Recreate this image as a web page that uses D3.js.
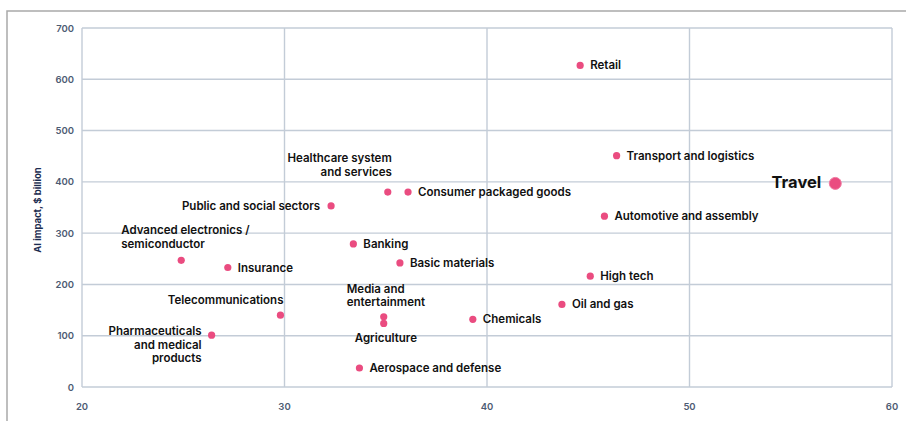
<!DOCTYPE html>
<html>
<head>
<meta charset="utf-8">
<script src="https://cdn.jsdelivr.net/npm/d3@7"></script>
<style>
	body { margin: 0; background: #fff; }
	svg { font-family: Inter, 'Noto Sans', sans-serif; }
	.grid line { stroke: #c3ccd7; stroke-width: 1.4; }
	.tick-label { fill: #4d5b73; font-size: 9.5px; font-weight: 600; }
	.lbl { fill: #111; font-size: 11.5px; font-weight: 600; }
	.lbl.big { font-size: 16.5px; font-weight: 700; }
</style>
</head>
<body>
<div id="chart"></div>
<script>
// industries and their positions (x = share of value, y = AI impact $bn)
const sectors = [
	'Retail', 'Transport and logistics', 'Travel', 'Automotive and assembly',
	'High tech', 'Oil and gas', 'Chemicals', 'Aerospace and defense',
	'Media and entertainment', 'Agriculture', 'Basic materials', 'Banking',
	'Public and social sectors', 'Healthcare system and services',
	'Consumer packaged goods', 'Telecommunications', 'Insurance',
	'Advanced electronics / semiconductor', 'Pharmaceuticals and medical products'
];
const xValues = [44.6, 46.4, 57.2, 45.8, 45.1, 43.7, 39.3, 33.7, 34.9, 34.9, 35.7, 33.4, 32.3, 35.1, 36.1, 29.8, 27.2, 24.9, 26.4];
const yValues = [627, 451, 397, 333, 216, 161, 132, 37, 137, 124, 242, 279, 353, 380, 380, 140, 233, 247, 101];
const xTicks = [20, 30, 40, 50, 60];
const yTicks = [0, 100, 200, 300, 400, 500, 600, 700];

// how each label sits around its dot
const labelLines = {
	'Healthcare system and services': ['Healthcare system', 'and services'],
	'Advanced electronics / semiconductor': ['Advanced electronics /', 'semiconductor'],
	'Pharmaceuticals and medical products': ['Pharmaceuticals', 'and medical', 'products'],
	'Media and entertainment': ['Media and', 'entertainment']
};
const labelPlace = {
	'Travel': { dx: -14, dy: 5, anchor: 'end' },
	'Public and social sectors': { dx: -11, dy: 4, anchor: 'end' },
	'Healthcare system and services': { dx: 4, dy: -30, anchor: 'end' },
	'Advanced electronics / semiconductor': { dx: -60, dy: -26, anchor: 'start' },
	'Telecommunications': { dx: 3, dy: -11, anchor: 'end' },
	'Pharmaceuticals and medical products': { dx: -10, dy: 0, anchor: 'end' },
	'Media and entertainment': { dx: -37, dy: -24, anchor: 'start' },
	'Agriculture': { dx: -29, dy: 19, anchor: 'start' }
};

const width = 906;
const height = 421;
const margin = { top: 28, right: 14, bottom: 34, left: 82 };

const svg = d3
	.select('#chart')
	.append('svg')
	.attr('width', width)
	.attr('height', height);

// outer frame (only top and left edges visible)
svg.append('path')
	.attr('d', `M7,${height} V11 H${width}`)
	.attr('fill', 'none')
	.attr('stroke', '#a9a9a9')
	.attr('stroke-width', 1.5);

const x = d3.scaleLinear().domain([20, 60]).range([margin.left, width - margin.right]);
const y = d3.scaleLinear().domain([0, 700]).range([height - margin.bottom, margin.top]);

const grid = svg.append('g').attr('class', 'grid');
grid.selectAll('.gx')
	.data(xTicks)
	.enter()
	.append('line')
	.attr('x1', (d) => x(d))
	.attr('x2', (d) => x(d))
	.attr('y1', y(0))
	.attr('y2', y(700));
grid.selectAll('.gy')
	.data(yTicks)
	.enter()
	.append('line')
	.attr('x1', x(20))
	.attr('x2', x(60))
	.attr('y1', (d) => y(d))
	.attr('y2', (d) => y(d));

svg.selectAll('.xt')
	.data(xTicks)
	.enter()
	.append('text')
	.attr('class', 'tick-label')
	.attr('x', (d) => x(d))
	.attr('y', y(0) + 23)
	.attr('text-anchor', 'middle')
	.text((d) => d);

svg.selectAll('.yt')
	.data(yTicks)
	.enter()
	.append('text')
	.attr('class', 'tick-label')
	.attr('x', x(20) - 8)
	.attr('y', (d) => y(d) + 3.5)
	.attr('text-anchor', 'end')
	.text((d) => d);

svg.append('text')
	.attr('transform', `translate(41,${y(345)}) rotate(-90)`)
	.attr('text-anchor', 'middle')
	.attr('fill', '#1b2b4f')
	.attr('font-size', 9.5)
	.attr('font-weight', 700)
	.text('AI impact, $ billion');

const points = sectors.map((name, i) => ({ name, x: xValues[i], y: yValues[i] }));

const node = svg
	.selectAll('.node')
	.data(points)
	.enter()
	.append('g')
	.attr('class', 'node')
	.attr('transform', (d) => `translate(${x(d.x)},${y(d.y)})`);

node.append('circle')
	.attr('r', (d) => (d.name === 'Travel' ? 6 : 3.6))
	.attr('fill', '#ea4c80')
	.attr('stroke', (d) => (d.name === 'Travel' ? '#f07ba2' : 'none'))
	.attr('stroke-width', 1);

node.each(function (d) {
	const place = labelPlace[d.name] || { dx: 10, dy: 4, anchor: 'start' };
	const lines = labelLines[d.name] || [d.name];
	const t = d3.select(this)
		.append('text')
		.attr('class', d.name === 'Travel' ? 'lbl big' : 'lbl')
		.attr('text-anchor', place.anchor)
		.attr('x', place.dx)
		.attr('y', place.dy);
	lines.forEach((line, i) => {
		t.append('tspan')
			.attr('x', place.dx)
			.attr('dy', i === 0 ? 0 : 13.5)
			.text(line);
	});
});
</script>
</body>
</html>
